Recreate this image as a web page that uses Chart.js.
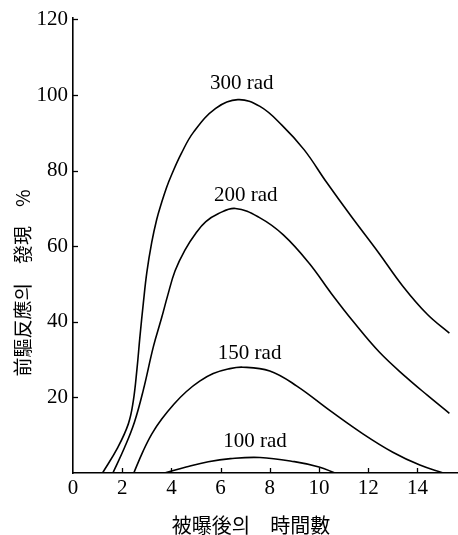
<!DOCTYPE html>
<html>
<head>
<meta charset="utf-8">
<script src="https://cdn.jsdelivr.net/npm/chart.js@4/dist/chart.umd.min.js"></script>
<style>
html,body{margin:0;padding:0;background:#fff;}
canvas{display:block;}
</style>
</head>
<body>
<canvas id="c" width="458" height="535"></canvas>
<script>
// ---- data ----
const seriesNames = ['300 rad', '200 rad', '150 rad', '100 rad'];

const hours300 = [1.2, 1.8, 2.25, 2.45, 2.6, 2.72, 2.86, 3.0, 3.2, 3.4, 3.6, 3.8, 4.0, 4.4, 4.9, 5.8, 6.7, 7.6, 8.5, 9.4, 10.3, 11.3, 12.4, 13.4, 14.4, 15.3];
const pct300   = [0, 6.5, 13, 19, 27.5, 36, 45, 53, 61, 67, 71.5, 75.5, 78.8, 84.5, 90.2, 96.5, 98.8, 97, 92, 85.5, 77, 68, 58.5, 49.5, 42, 37];

const hours200 = [1.62, 2.1, 2.5, 2.86, 3.27, 3.6, 3.85, 4.15, 4.55, 5.0, 5.4, 5.9, 6.6, 7.6, 8.55, 9.6, 10.5, 11.4, 12.45, 13.55, 14.4, 15.3];
const pct200   = [0, 6.8, 13.5, 22, 33.5, 41, 47, 53.5, 59, 63.5, 66.5, 68.6, 70, 67.5, 63, 55.5, 47.5, 40, 32, 25.3, 20.6, 15.8];

const hours150 = [2.47, 2.85, 3.2, 3.6, 4.1, 4.6, 5.15, 5.7, 6.3, 6.9, 8.0, 9.1, 10.45, 11.8, 13.0, 14.1, 15.05];
const pct150   = [0, 5.8, 10.3, 14.2, 18.2, 21.5, 24.3, 26.3, 27.5, 28, 27, 23, 16.5, 10.3, 5.5, 2.1, 0];

const hours100 = [3.72, 4.6, 5.5, 6.4, 7.6, 9.0, 10.0, 10.65];
const pct100   = [0, 1.6, 3.0, 3.8, 4.1, 3.0, 1.6, 0];

const xTickValues = [0, 2, 4, 6, 8, 10, 12, 14];
const yTickValues = [20, 40, 60, 80, 100, 120];

const xTitle = '被曝後의\u3000時間數';
const yTitle = '前驅反應의\u3000發現\u3000%';

// ---- build ----
function pts(xs, ys) { return xs.map((x, i) => ({ x: x, y: ys[i] })); }
const seriesData = [pts(hours300, pct300), pts(hours200, pct200), pts(hours150, pct150), pts(hours100, pct100)];

// label anchor points (data units) for curve names
const nameAnchors = [[6.86, 103], [7.02, 73.5], [7.18, 31.7], [7.4, 8.3]];

const serif = "'Liberation Serif', 'DejaVu Serif', serif";
const cjk = "'Noto Sans CJK KR', 'Noto Sans CJK JP', sans-serif";

const decor = {
  id: 'decor',
  afterDraw(chart) {
    const ctx = chart.ctx;
    const xs = chart.scales.x, ys = chart.scales.y;
    const area = chart.chartArea;
    ctx.save();
    // inward tick marks
    ctx.strokeStyle = '#000';
    ctx.lineWidth = 1.3;
    xTickValues.forEach(v => {
      if (v === 0) return;
      const px = Math.round(xs.getPixelForValue(v)) + 0.5;
      ctx.beginPath(); ctx.moveTo(px, area.bottom); ctx.lineTo(px, area.bottom - 5); ctx.stroke();
    });
    yTickValues.forEach(v => {
      const py = Math.round(ys.getPixelForValue(v)) + 0.5;
      ctx.beginPath(); ctx.moveTo(area.left, py); ctx.lineTo(area.left + 5, py); ctx.stroke();
    });
    // curve names
    ctx.fillStyle = '#000';
    ctx.font = '21px ' + serif;
    ctx.textAlign = 'center';
    ctx.textBaseline = 'middle';
    seriesNames.forEach((n, i) => {
      ctx.fillText(n, xs.getPixelForValue(nameAnchors[i][0]), ys.getPixelForValue(nameAnchors[i][1]));
    });
    // axis titles
    ctx.font = '20px ' + cjk;
    ctx.fillText(xTitle, 251, 525);
    ctx.save();
    ctx.translate(22.5, 283);
    ctx.rotate(-Math.PI / 2);
    ctx.font = '19px ' + cjk;
    ctx.fillText(yTitle, 0, 0);
    ctx.restore();
    ctx.restore();
  }
};

new Chart(document.getElementById('c'), {
  type: 'line',
  data: {
    datasets: seriesData.map((d, i) => ({
      label: seriesNames[i],
      data: d,
      borderColor: '#000',
      borderWidth: 1.6,
      pointRadius: 0,
      fill: false,
      tension: 0.4
    }))
  },
  options: {
    responsive: false,
    devicePixelRatio: 1,
    animation: false,
    layout: { padding: { top: 9, right: 0, left: 0, bottom: 0 } },
    plugins: { legend: { display: false }, tooltip: { enabled: false } },
    scales: {
      x: {
        type: 'linear',
        min: 0,
        max: 15.65,
        afterFit(s) { s.height = 62; },
        afterBuildTicks(s) { s.ticks = xTickValues.map(v => ({ value: v })); },
        grid: { display: false, drawTicks: false },
        border: { display: true, color: '#000', width: 1.6 },
        ticks: { color: '#000', font: { family: serif, size: 21 }, padding: 3, autoSkip: false, maxRotation: 0 }
      },
      y: {
        type: 'linear',
        min: 0,
        max: 120.5,
        afterFit(s) { s.width = 73; },
        afterBuildTicks(s) { s.ticks = yTickValues.map(v => ({ value: v })); },
        grid: { display: false, drawTicks: false },
        border: { display: true, color: '#000', width: 1.6 },
        ticks: { color: '#000', font: { family: serif, size: 21 }, padding: 5 }
      }
    }
  },
  plugins: [decor]
});
</script>
</body>
</html>
